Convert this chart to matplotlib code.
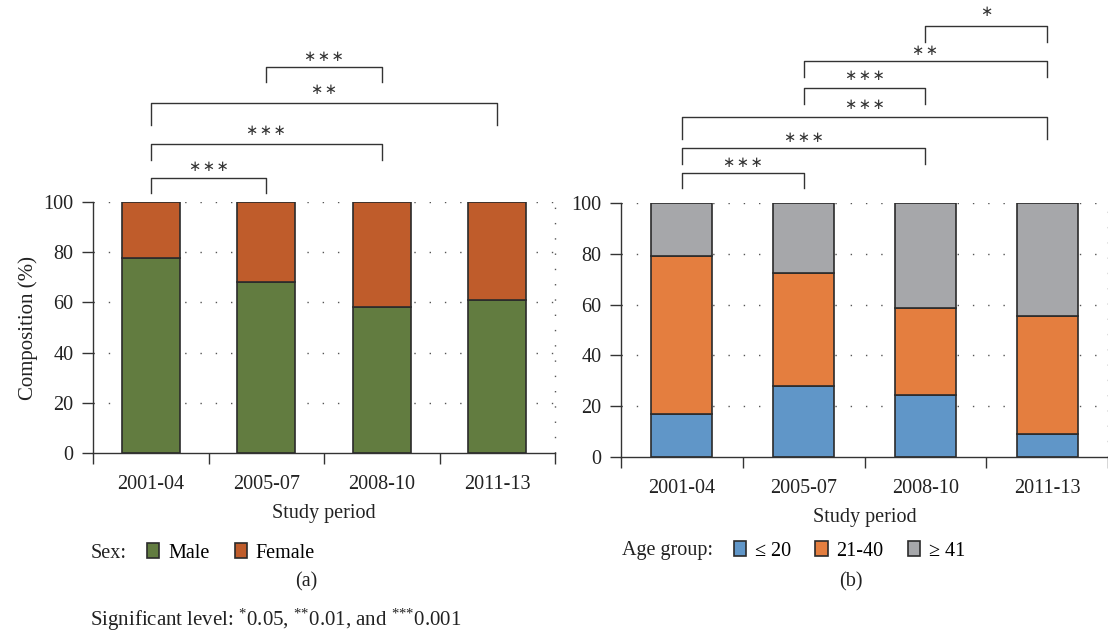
import numpy as np
import matplotlib
matplotlib.use("Agg")
import matplotlib.pyplot as plt
from matplotlib.patches import Patch

plt.rcParams['font.family'] = ['Liberation Serif', 'DejaVu Serif']
plt.rcParams['mathtext.fontset'] = 'custom'
plt.rcParams['mathtext.rm'] = 'Liberation Serif'
plt.rcParams['mathtext.it'] = 'Liberation Serif:italic'

periods = ['2001-04', '2005-07', '2008-10', '2011-13']

# (a) sex composition, %
male = [77.5, 68.0, 58.0, 61.0]
female = [22.5, 32.0, 42.0, 39.0]

# (b) age group composition, %
age_le20 = [17.0, 28.0, 24.5, 9.0]
age_21_40 = [62.0, 44.5, 34.0, 46.5]
age_ge41 = [21.0, 27.5, 41.5, 44.5]

# significance brackets: (from, to, number of stars)
sig_a = [(0, 1, 3), (0, 2, 3), (0, 3, 2), (1, 2, 3)]
sig_b = [(0, 1, 3), (0, 2, 3), (0, 3, 3), (1, 2, 3), (1, 3, 2), (2, 3, 1)]

c_male = '#627c40'
c_female = '#bf5c2b'
c_blue = '#6096c8'
c_orange = '#e47e3f'
c_gray = '#a6a7aa'
edge = '#2b2b2b'
txt = '#222222'
FS = 14.5

fig = plt.figure(figsize=(11.08, 6.35), dpi=100)
ax1 = fig.add_axes([93 / 1108, 1 - 453 / 635, 462 / 1108, 251 / 635])
ax2 = fig.add_axes([621 / 1108, 1 - 457 / 635, 487 / 1108, 254 / 635])

x = np.arange(len(periods))


def style_axes(ax):
    ax.set_xlim(-0.5, 3.5)
    ax.set_ylim(0, 100)
    ax.set_yticks([0, 20, 40, 60, 80, 100])
    for sp in ['top', 'right']:
        ax.spines[sp].set_visible(False)
    for sp in ['left', 'bottom']:
        ax.spines[sp].set_color('#333333')
        ax.spines[sp].set_linewidth(1.0)
    for yv in [20, 40, 60, 80, 100]:
        ax.axhline(yv, color='#555555', lw=1.0, ls=(0, (1, 10)), zorder=0)
    ax.axvline(3.5, color='#555555', lw=1.0, ls=(0, (1, 10)), zorder=0, clip_on=False)
    ax.set_xticks([-0.5, 0.5, 1.5, 2.5, 3.5])
    ax.set_xticklabels([])
    ax.set_xticks(x, minor=True)
    ax.set_xticklabels(periods, minor=True, fontsize=FS, color=txt)
    ax.tick_params(axis='x', which='major', direction='out', length=8, width=1, color='#333333')
    ax.tick_params(axis='x', which='minor', length=0, pad=16)
    ax.tick_params(axis='y', direction='out', length=8, width=1, color='#333333',
                   labelsize=FS, labelcolor=txt, pad=6)
    ax.set_xlabel('Study period', fontsize=FS, color=txt, labelpad=7)


def brackets(ax, sig, levels, drops, text_y):
    for (i, j, n), top, drop, ty in zip(sig, levels, drops, text_y):
        ax.plot([x[i], x[i], x[j], x[j]], [top - drop, top, top, top - drop],
                color='#333333', lw=1.0, clip_on=False, solid_joinstyle='round')
        ax.text((x[i] + x[j]) / 2, ty, '\u200a'.join(['\u2217'] * n), ha='center', va='center',
                fontsize=10.5, color='#333333', family=['DejaVu Sans'], clip_on=False)


# (a)
ax1.bar(x, male, width=0.5, color=c_male, edgecolor=edge, lw=1.2, zorder=2)
ax1.bar(x, female, width=0.5, bottom=male, color=c_female, edgecolor=edge, lw=1.2, zorder=2)
style_axes(ax1)
ax1.set_ylabel('Composition (%)', fontsize=15, color=txt, labelpad=4)
brackets(ax1, sig_a,
         [109.6, 123.1, 139.4, 153.8],
         [6.0, 6.5, 8.7, 6.0],
         [114.3, 128.3, 145.0, 157.8])

# (b)
ax2.bar(x, age_le20, width=0.5, color=c_blue, edgecolor=edge, lw=1.2, zorder=2)
ax2.bar(x, age_21_40, width=0.5, bottom=age_le20, color=c_orange, edgecolor=edge, lw=1.2, zorder=2)
bot3 = [a + b for a, b in zip(age_le20, age_21_40)]
ax2.bar(x, age_ge41, width=0.5, bottom=bot3, color=c_gray, edgecolor=edge, lw=1.2, zorder=2)
style_axes(ax2)
brackets(ax2, sig_b,
         [111.8, 121.7, 133.9, 145.3, 155.9, 169.7],
         [5.9, 6.3, 8.7, 6.3, 6.3, 6.3],
         [115.8, 125.6, 138.6, 150.0, 160.2, 175.2])

# legends
fig.text(91 / 1108, 1 - 553 / 635, 'Sex:', fontsize=FS, va='center', color=txt)
fig.legend(handles=[Patch(facecolor=c_male, edgecolor=edge, lw=1.2),
                    Patch(facecolor=c_female, edgecolor=edge, lw=1.2)],
           labels=['Male', 'Female'], loc='center left', bbox_to_anchor=(147 / 1108, 1 - 553 / 635),
           ncol=2, frameon=False, fontsize=FS, handlelength=0.6, handleheight=0.7,
           handletextpad=0.45, columnspacing=1.25, borderpad=0, borderaxespad=0)

fig.text(622 / 1108, 1 - 551 / 635, 'Age group:', fontsize=FS, va='center', color=txt)
fig.legend(handles=[Patch(facecolor=c_blue, edgecolor=edge, lw=1.2),
                    Patch(facecolor=c_orange, edgecolor=edge, lw=1.2),
                    Patch(facecolor=c_gray, edgecolor=edge, lw=1.2)],
           labels=['\u2264 20', '21-40', '\u2265 41'], loc='center left',
           bbox_to_anchor=(734 / 1108, 1 - 551 / 635),
           ncol=3, frameon=False, fontsize=FS, handlelength=0.6, handleheight=0.7,
           handletextpad=0.45, columnspacing=1.2, borderpad=0, borderaxespad=0)

fig.text(306 / 1108, 1 - 582 / 635, '(a)', fontsize=FS, ha='center', va='center', color=txt)
fig.text(851 / 1108, 1 - 582 / 635, '(b)', fontsize=FS, ha='center', va='center', color=txt)
fig.text(90 / 1108, 1 - 620 / 635,
         r'Significant level: $^{*}$0.05, $^{{*}{*}}$0.01, and $^{{*}{*}{*}}$0.001',
         fontsize=15, ha='left', va='center', color=txt)

fig.savefig('out.png', dpi=100)
